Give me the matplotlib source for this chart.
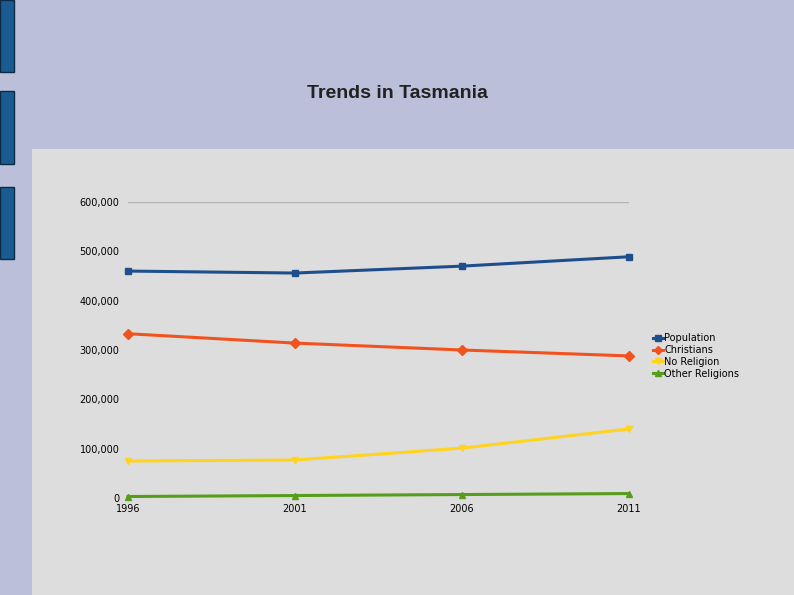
import matplotlib.pyplot as plt
from matplotlib.patches import Rectangle

years = ["1996", "2001", "2006", "2011"]
population = [460000, 456000, 470000, 489000]
christians = [333000, 314000, 300000, 288000]
no_religion = [75000, 77000, 101000, 140000]
other_religions = [3000, 5000, 7000, 9000]

series = [
    ("Population", population, "#1F4E8C", "s"),
    ("Christians", christians, "#F2531E", "D"),
    ("No Religion", no_religion, "#FFD320", "v"),
    ("Other Religions", other_religions, "#579D1C", "^"),
]

fig = plt.figure(figsize=(7.94, 5.95), dpi=100)
fig.patch.set_facecolor("#BBBFD9")

# slide decorations
for y0, y1 in [(0, 72), (91, 164), (187, 259)]:
    fig.patches.append(Rectangle((0, 1 - y1 / 595), 14 / 794, (y1 - y0) / 595,
                                 transform=fig.transFigure, facecolor="#1A5C91",
                                 edgecolor="#0D2A45", lw=1, zorder=-2))
fig.patches.append(Rectangle((32 / 794, 0), 1, 1 - 149 / 595, transform=fig.transFigure,
                             facecolor="#DDDDDD", edgecolor="none", zorder=-2))
fig.text(397 / 794, 1 - 94 / 595, "Trends in Tasmania", ha="center", va="center",
         fontsize=14, fontweight="bold", color="#222222", family="Liberation Sans")

ax = fig.add_axes([128 / 794, 1 - 498 / 595, 501 / 794, 296 / 595])
ax.set_facecolor("none")
x = range(len(years))
for name, vals, color, marker in series:
    ax.plot(x, vals, color=color, marker=marker, markersize=5, lw=2.2, label=name,
            clip_on=False)

ax.set_xlim(0, 3)
ax.set_ylim(0, 600000)
ax.set_yticks(range(0, 600001, 100000))
ax.set_yticklabels([f"{v:,}" for v in range(0, 600001, 100000)])
ax.set_xticks(list(x))
ax.set_xticklabels(years)
ax.axhline(600000, color="#B3B3B3", lw=1, zorder=0)
for s in ax.spines.values():
    s.set_visible(False)
ax.tick_params(length=0, labelsize=7, pad=6)
ax.tick_params(axis="x", pad=4)

ax.legend(loc="center left", bbox_to_anchor=(1.03, 0.48), frameon=False,
          fontsize=7, handlelength=1, handletextpad=0.2, labelspacing=0.2,
          markerscale=0.8)

fig.savefig("out.png", dpi=100, facecolor=fig.get_facecolor())
